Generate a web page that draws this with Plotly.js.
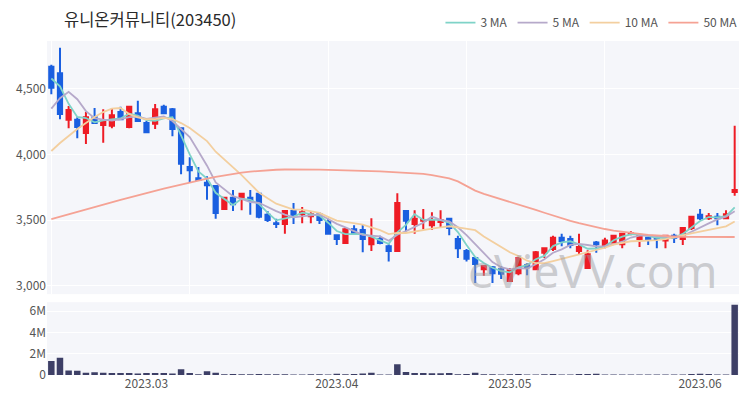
<!DOCTYPE html>
<html><head><meta charset="utf-8">
<script src="https://cdn.plot.ly/plotly-3.0.1.min.js"></script>
<style>html,body{margin:0;padding:0;background:#fff}</style>
</head><body><div id="chart" style="width:750px;height:400px"></div>
<script>
const dates = [
 '2023-02-14','2023-02-15','2023-02-16','2023-02-17','2023-02-20','2023-02-21','2023-02-22','2023-02-23','2023-02-24','2023-02-27','2023-02-28',
 '2023-03-02','2023-03-03','2023-03-06','2023-03-07','2023-03-08','2023-03-09','2023-03-10','2023-03-13','2023-03-14','2023-03-15','2023-03-16','2023-03-17','2023-03-20','2023-03-21','2023-03-22','2023-03-23','2023-03-24','2023-03-27','2023-03-28','2023-03-29','2023-03-30','2023-03-31',
 '2023-04-03','2023-04-04','2023-04-05','2023-04-06','2023-04-07','2023-04-10','2023-04-11','2023-04-12','2023-04-13','2023-04-14','2023-04-17','2023-04-18','2023-04-19','2023-04-20','2023-04-21','2023-04-24','2023-04-25','2023-04-26','2023-04-27','2023-04-28',
 '2023-05-02','2023-05-03','2023-05-04','2023-05-08','2023-05-09','2023-05-10','2023-05-11','2023-05-12','2023-05-15','2023-05-16','2023-05-17','2023-05-18','2023-05-19','2023-05-22','2023-05-23','2023-05-24','2023-05-25','2023-05-26','2023-05-30','2023-05-31',
 '2023-06-01','2023-06-02','2023-06-05','2023-06-07','2023-06-08','2023-06-09','2023-06-12'
];
const openP = [4670,4620,4265,4265,4165,4285,4225,4220,4325,4210,4315,4240,4235,4365,4345,4200,3905,3820,3785,3760,
 3585,3670,3670,3670,3700,3540,3475,3470,3570,3545,3530,3545,3485,3385,3325,3430,3425,3315,3355,3300,
 3265,3570,3470,3495,3460,3485,3510,3355,3265,3210,3125,3140,3125,3035,3095,3155,3125,3250,3280,3365,
 3355,3265,3135,3330,3310,3330,3315,3395,3355,3365,3365,3345,3380,3355,3440,3540,3515,3525,3515,3715];
const highP = [4685,4815,4370,4285,4325,4355,4345,4355,4365,4370,4410,4255,4385,4380,4355,4200,3980,3905,3835,3760,
 3670,3730,3700,3730,3705,3570,3510,3570,3630,3600,3560,3560,3510,3385,3445,3460,3470,3515,3380,3315,
 3705,3575,3575,3585,3560,3575,3510,3380,3280,3210,3150,3150,3150,3135,3215,3170,3265,3285,3380,3395,
 3380,3395,3270,3340,3365,3385,3395,3415,3385,3370,3370,3385,3395,3445,3530,3585,3555,3555,3575,4220];
const lowP = [4460,4270,4200,4125,4080,4235,4090,4200,4265,4200,4250,4170,4195,4310,4140,3850,3790,3800,3655,3510,
 3585,3570,3575,3540,3515,3485,3440,3395,3470,3475,3475,3470,3395,3310,3325,3400,3255,3265,3315,3185,
 3265,3415,3395,3430,3425,3440,3385,3210,3185,3020,3075,3020,3050,3035,3080,3080,3120,3210,3265,3300,
 3285,3240,3135,3250,3285,3325,3285,3385,3295,3310,3285,3285,3325,3310,3425,3500,3500,3460,3515,3685];
const closeP = [4510,4310,4340,4210,4285,4240,4255,4300,4270,4365,4255,4170,4345,4315,4195,3930,3880,3805,3765,3555,
 3670,3620,3700,3645,3525,3500,3470,3570,3540,3560,3545,3500,3395,3355,3430,3400,3355,3365,3325,3265,
 3630,3495,3510,3500,3500,3500,3440,3285,3205,3165,3150,3095,3090,3120,3210,3140,3255,3285,3365,3340,
 3310,3295,3240,3315,3345,3380,3395,3400,3385,3355,3355,3380,3365,3440,3525,3515,3530,3515,3545,3730];
const volume = [1310000,1620000,420000,400000,220000,250000,220000,200000,200000,180000,150000,180000,200000,180000,150000,550000,200000,80000,350000,220000,
 80000,100000,80000,80000,100000,60000,60000,80000,50000,50000,80000,60000,50000,120000,60000,100000,150000,220000,50000,50000,
 1000000,280000,200000,180000,170000,170000,200000,80000,100000,220000,60000,60000,50000,60000,100000,50000,50000,60000,100000,50000,
 50000,100000,100000,120000,50000,50000,50000,50000,50000,50000,40000,50000,50000,50000,100000,120000,100000,50000,50000,6600000];
// moving-average values before enough closes are on the chart
const ma3Lead = [4580, 4520];
const ma5Lead = [4350, 4430, 4478, 4422];
const ma10Lead = [4027, 4088, 4141, 4195, 4241, 4286, 4324, 4350, 4355];
const ma50 = [3508,3527,3545,3563,3582,3600,3618,3636,3654,3672,3690,3706,3722,3740,3756,3772,3788,3802,3817,3830,
 3842,3853,3862,3870,3876,3881,3884,3886,3887,3887,3886,3885,3883,3882,3880,3878,3876,3874,3871,3868,
 3865,3862,3858,3852,3843,3832,3818,3795,3760,3725,3700,3680,3662,3643,3622,3600,3578,3556,3535,3512,
 3494,3476,3460,3445,3432,3420,3410,3402,3395,3388,3382,3378,3375,3372,3371,3370,3370,3370,3370,3371];
const monthTicks = ['2023-03-02','2023-04-03','2023-05-02','2023-06-05'];
const monthLabels = ['2023.03','2023.04','2023.05','2023.06'];
const priceTicks = [3000,3500,4000,4500];
const volTicks = [0,2000000,4000000,6000000];

function movingAvg(vals, n, lead){
  return vals.map((v,i)=>{
    if(i < n-1) return lead[i];
    let s=0; for(let k=i-n+1;k<=i;k++) s+=vals[k];
    return s/n;
  });
}
const FONT = '"Noto Sans CJK KR", "Noto Sans", sans-serif';
const maLine = (name, y, color) => ({type:'scatter', mode:'lines', name, x:dates, y,
  line:{color, width:1.8}, xaxis:'x', yaxis:'y', hoverinfo:'skip'});
const traces = [
  maLine('3 MA', movingAvg(closeP,3,ma3Lead), '#7fd3c8'),
  maLine('5 MA', movingAvg(closeP,5,ma5Lead), '#b6a9ca'),
  maLine('10 MA', movingAvg(closeP,10,ma10Lead), '#f3cf9f'),
  maLine('50 MA', ma50, '#f5a294'),
  {type:'candlestick', x:dates, open:openP, high:highP, low:lowP, close:closeP, showlegend:false,
   xaxis:'x', yaxis:'y', whiskerwidth:0,
   increasing:{line:{color:'#ee1c25', width:2}, fillcolor:'#ee1c25'},
   decreasing:{line:{color:'#1a5fe0', width:2}, fillcolor:'#1a5fe0'}},
  {type:'bar', x:dates, y:volume, xaxis:'x2', yaxis:'y2', marker:{color:'#3d3f66'}, showlegend:false}
];
const layout = {
  width:750, height:400,
  margin:{l:47, r:8, t:40, b:25},
  paper_bgcolor:'#ffffff', plot_bgcolor:'#f5f6fa',
  font:{family:FONT, size:12, color:'#555'},
  title:{text:'유니온커뮤니티(203450)', x:64/750, xref:'container', xanchor:'left', y:0.95, yref:'container', yanchor:'middle',
    font:{family:FONT, size:16.5, color:'#2a2a2a'}},
  showlegend:true,
  legend:{orientation:'h', x:1.005, xanchor:'right', y:1.055, yanchor:'middle', font:{size:12, color:'#555'}, itemwidth:30, bgcolor:'rgba(0,0,0,0)'},
  bargap:0.25,
  xaxis:{type:'category', domain:[0,1], anchor:'y', range:[-0.5,79.5], rangeslider:{visible:false},
    tickmode:'linear', tick0:0, dtick:16, showticklabels:false, ticks:'', showgrid:true, gridcolor:'#ffffff', gridwidth:1, zeroline:false, showline:false},
  xaxis2:{type:'category', matches:'x', anchor:'y2', range:[-0.5,79.5], tickmode:'array', tickvals:monthTicks, ticktext:monthLabels,
    showgrid:false, ticks:'', zeroline:false, showline:false, tickfont:{size:12, color:'#555'}},
  yaxis:{domain:[0.242,1], range:[2935,4866], tickmode:'array', tickvals:priceTicks, tickformat:',d',
    showgrid:true, gridcolor:'#ffffff', gridwidth:1, zeroline:false, ticks:'', tickfont:{size:12, color:'#555'}},
  yaxis2:{domain:[0,0.218], range:[0,6850000], tickmode:'array', tickvals:volTicks, tickformat:'~s',
    showgrid:true, gridcolor:'#ffffff', gridwidth:1, zeroline:false, ticks:'', tickfont:{size:12, color:'#555'}},
  annotations:[{text:'eVieVV.com', xref:'paper', yref:'paper', x:(595-47)/695, y:(375-270)/335, xanchor:'center', yanchor:'middle',
    showarrow:false, font:{family:'"Noto Sans", sans-serif', size:46, color:'rgba(160,160,165,0.5)'}}]
};
Plotly.newPlot('chart', traces, layout, {displayModeBar:false, staticPlot:true});
</script></body></html>
